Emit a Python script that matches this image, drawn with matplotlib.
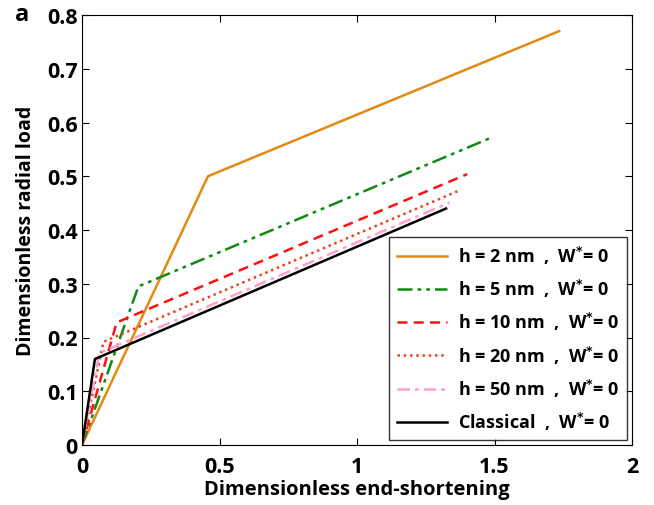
import matplotlib.pyplot as plt
from matplotlib.ticker import FixedLocator

plt.rcParams['font.family'] = ['Open Sans', 'DejaVu Sans']
plt.rcParams['font.weight'] = 'bold'

# load-shortening paths: origin -> buckling point -> end of run
labels = ['h = 2 nm  ,  W$^{*}$= 0', 'h = 5 nm  ,  W$^{*}$= 0',
          'h = 10 nm  ,  W$^{*}$= 0', 'h = 20 nm  ,  W$^{*}$= 0',
          'h = 50 nm  ,  W$^{*}$= 0', 'Classical  ,  W$^{*}$= 0']
shortening = [
    [0, 0.458, 1.735],
    [0, 0.205, 1.484],
    [0, 0.126, 1.401],
    [0, 0.078, 1.365],
    [0, 0.063, 1.336],
    [0, 0.047, 1.324],
]
radial_load = [
    [0, 0.500, 0.770],
    [0, 0.295, 0.571],
    [0, 0.228, 0.504],
    [0, 0.192, 0.472],
    [0, 0.171, 0.451],
    [0, 0.160, 0.440],
]
colors = ['#e38a12', '#108a10', '#ff1010', '#e8441c', '#ff9fcf', 'black']
styles = ['-', (0, (6, 2, 1.5, 2, 1.5, 2)), (0, (4, 2.5)), (0, (1, 1.5)),
          (0, (5, 2, 1.5, 2)), '-']

fig = plt.figure(figsize=(6.54, 5.06), dpi=100)
ax = fig.add_axes([82 / 654, 60 / 506, 550 / 654, 430 / 506])

for x, y, c, ls, lab in zip(shortening, radial_load, colors, styles, labels):
    ax.plot(x, y, color=c, linestyle=ls, linewidth=1.8, label=lab)

ax.set_xlim(0, 2)
ax.set_ylim(0, 0.8)
ax.xaxis.set_major_locator(FixedLocator([0, 0.5, 1, 1.5, 2]))
ax.yaxis.set_major_locator(FixedLocator([0, 0.1, 0.2, 0.3, 0.4, 0.5, 0.6, 0.7, 0.8]))
ax.set_xticklabels(['0', '0.5', '1', '1.5', '2'])
ax.set_yticklabels(['0', '0.1', '0.2', '0.3', '0.4', '0.5', '0.6', '0.7', '0.8'])
ax.tick_params(direction='in', top=True, right=True, labelsize=15.5, length=5)
ax.tick_params(axis='x', pad=8)
ax.tick_params(axis='y', pad=3)
for lbl in ax.get_xticklabels() + ax.get_yticklabels():
    lbl.set_fontweight('bold')

ax.set_xlabel('Dimensionless end-shortening', fontsize=14.5, fontweight='bold')
ax.xaxis.set_label_coords(0.5, -0.078)
ax.set_ylabel('Dimensionless radial load', fontsize=14, fontweight='bold')
ax.yaxis.set_label_coords(-0.084, 0.5)

leg = ax.legend(loc='lower right', frameon=True, fancybox=False,
                edgecolor='black', handlelength=2.8, handletextpad=0.6,
                labelspacing=0.62, borderaxespad=0.3,
                prop={'weight': 'bold', 'size': 13})
leg.get_frame().set_linewidth(1.0)

fig.text(15 / 654, 1 - 15 / 506, 'a', fontsize=17, fontweight='bold', va='center')

fig.savefig('out.png', dpi=100)
